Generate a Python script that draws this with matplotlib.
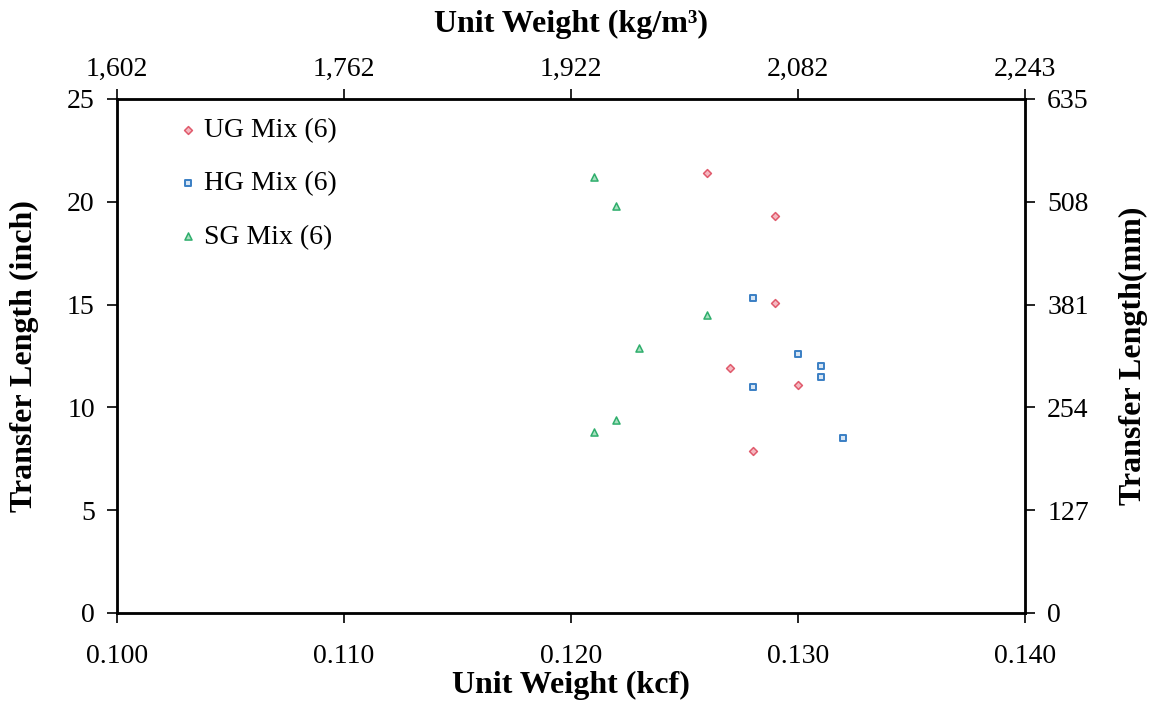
import matplotlib
matplotlib.use("Agg")
import matplotlib.pyplot as plt

plt.rcParams['font.family'] = ['Liberation Serif', 'DejaVu Serif']

# Data (Unit weight in kcf, transfer length in inches)
ug_x = [0.126, 0.129, 0.129, 0.127, 0.130, 0.128]
ug_y = [21.4, 19.3, 15.1, 11.9, 11.1, 7.9]
hg_x = [0.128, 0.130, 0.131, 0.131, 0.128, 0.132]
hg_y = [15.3, 12.6, 12.0, 11.5, 11.0, 8.5]
sg_x = [0.121, 0.122, 0.126, 0.123, 0.122, 0.121]
sg_y = [21.2, 19.8, 14.5, 12.9, 9.4, 8.8]

x_ticks = [0.100, 0.110, 0.120, 0.130, 0.140]
x_ticklabels = ["0.100", "0.110", "0.120", "0.130", "0.140"]
top_ticklabels = ["1,602", "1,762", "1,922", "2,082", "2,243"]
y_ticks = [0, 5, 10, 15, 20, 25]
right_ticks = [0, 127, 254, 381, 508, 635]

fig = plt.figure(figsize=(11.51, 7.02), dpi=100)
ax = fig.add_axes([0.1017, 0.1268, 0.7888, 0.7322])

ax.scatter(ug_x, ug_y, marker='D', s=16, facecolor='#f5b8c0', edgecolor='#e05a6c', linewidth=1.1, label='UG Mix (6)', zorder=3)
ax.scatter(hg_x, hg_y, marker='s', s=22, facecolor='#d8e6f4', edgecolor='#3a7fc4', linewidth=1.4, label='HG Mix (6)', zorder=3)
ax.scatter(sg_x, sg_y, marker='^', s=26, facecolor='#a8e0c0', edgecolor='#2fae6c', linewidth=1.1, label='SG Mix (6)', zorder=3)

ax.set_xlim(0.100, 0.140)
ax.set_ylim(0, 25)
ax.set_xticks(x_ticks)
ax.set_xticklabels(x_ticklabels)
ax.set_yticks(y_ticks)
ax.tick_params(axis='both', direction='out', length=7, width=1.2, labelsize=20, pad=9)
ax.tick_params(axis='x', pad=15)
ax.set_xlabel('Unit Weight (kcf)', fontsize=23, fontweight='bold', labelpad=2)
ax.set_ylabel('Transfer Length (inch)', fontsize=23, fontweight='bold', labelpad=20)

for sp in ax.spines.values():
    sp.set_linewidth(2.0)

axt = ax.twiny()
axt.set_xlim(0.100, 0.140)
axt.set_xticks(x_ticks)
axt.set_xticklabels(top_ticklabels)
axt.tick_params(axis='x', direction='out', length=7, width=1.2, labelsize=20, pad=5)
axt.set_xlabel('Unit Weight (kg/m³)', fontsize=23, fontweight='bold', labelpad=18)

axr = ax.twinx()
axr.set_ylim(0, 635)
axr.set_yticks(right_ticks)
axr.tick_params(axis='y', direction='out', length=7, width=1.2, labelsize=20, pad=9)
axr.set_ylabel('Transfer Length(mm)', fontsize=23, fontweight='bold', labelpad=22)

leg = ax.legend(loc='upper left', bbox_to_anchor=(0.047, 0.985), frameon=False,
                fontsize=20, labelspacing=1.0, handletextpad=0.0, markerscale=1.0,
                borderaxespad=0, handlelength=1.2)

fig.savefig('out.png', dpi=100)
